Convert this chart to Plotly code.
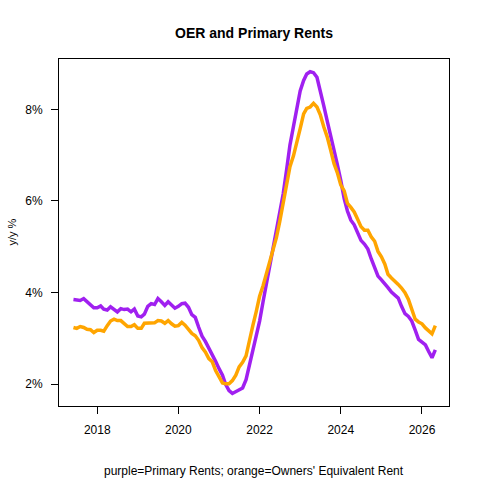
import plotly.graph_objects as go
import pandas as pd

dates = pd.date_range("2017-06-01", periods=108, freq="MS").strftime("%Y-%m-%d").tolist()

primary_rents = [
    3.85, 3.84, 3.83, 3.87, 3.80, 3.72, 3.67, 3.67, 3.71, 3.64, 3.62, 3.69,
    3.64, 3.58, 3.65, 3.63, 3.64, 3.58, 3.64, 3.49, 3.47, 3.53, 3.70, 3.76,
    3.74, 3.87, 3.80, 3.72, 3.80, 3.73, 3.66, 3.70, 3.76, 3.77, 3.68, 3.52,
    3.46, 3.25, 3.05, 2.93, 2.80, 2.65, 2.50, 2.34, 2.20, 2.00, 1.86, 1.80,
    1.84, 1.90, 1.92, 2.10, 2.40, 2.75, 3.05, 3.38, 3.80, 4.17, 4.53, 4.88,
    5.35, 5.75, 6.15, 6.68, 7.22, 7.62, 8.05, 8.40, 8.63, 8.77, 8.82, 8.80,
    8.70, 8.42, 8.08, 7.75, 7.45, 7.15, 6.80, 6.45, 6.05, 5.78, 5.58, 5.48,
    5.30, 5.14, 5.06, 4.95, 4.74, 4.55, 4.36, 4.28, 4.20, 4.11, 4.01, 3.95,
    3.88, 3.70, 3.54, 3.48, 3.38, 3.18, 2.98, 2.92, 2.86, 2.72, 2.58, 2.75,
]

oer = [
    3.24, 3.22, 3.26, 3.24, 3.20, 3.19, 3.13, 3.18, 3.18, 3.16, 3.28, 3.38,
    3.42, 3.39, 3.39, 3.33, 3.26, 3.26, 3.30, 3.22, 3.22, 3.33, 3.33, 3.34,
    3.34, 3.39, 3.38, 3.33, 3.39, 3.32, 3.27, 3.28, 3.35, 3.29, 3.20, 3.11,
    3.06, 2.96, 2.80, 2.70, 2.56, 2.49, 2.30, 2.18, 2.03, 2.01, 2.01, 2.08,
    2.20, 2.38, 2.48, 2.62, 2.98, 3.28, 3.58, 3.92, 4.15, 4.40, 4.65, 4.90,
    5.20, 5.55, 5.95, 6.40, 6.75, 6.98, 7.25, 7.58, 7.90, 8.02, 8.05, 8.13,
    8.05, 7.88, 7.62, 7.40, 7.12, 6.82, 6.62, 6.35, 6.22, 5.95, 5.86, 5.76,
    5.60, 5.44, 5.36, 5.36, 5.22, 5.12, 4.90, 4.78, 4.62, 4.40, 4.32, 4.26,
    4.18, 4.10, 4.00, 3.85, 3.65, 3.42, 3.36, 3.32, 3.23, 3.16, 3.10, 3.28,
]

x_tick_vals = ["2018-01-01", "2020-01-01", "2022-01-01", "2024-01-01", "2026-01-01"]
x_tick_text = ["2018", "2020", "2022", "2024", "2026"]
y_tick_vals = [2, 4, 6, 8]
y_tick_text = ["2%", "4%", "6%", "8%"]

font = "Liberation Sans, Arial, sans-serif"

fig = go.Figure()
fig.add_trace(go.Scatter(x=dates, y=primary_rents, mode="lines",
                         line=dict(color="#A020F0", width=3.5), name="Primary Rents"))
fig.add_trace(go.Scatter(x=dates, y=oer, mode="lines",
                         line=dict(color="#FFA500", width=3.5), name="Owners' Equivalent Rent"))

fig.update_layout(
    width=480, height=480,
    margin=dict(l=59, r=31, t=59, b=74),
    paper_bgcolor="white", plot_bgcolor="white",
    showlegend=False,
    font=dict(family=font, size=12, color="black"),
    title=dict(text="<b>OER and Primary Rents</b>", x=(59 + 449) / 2 / 480, xanchor="center",
               y=1 - 33 / 480, yanchor="middle", font=dict(size=14, family=font, color="black")),
    xaxis=dict(type="date", range=["2017-01-22", "2026-09-01"],
               tickvals=x_tick_vals, ticktext=x_tick_text,
               showgrid=False, zeroline=False,
               showline=True, mirror=True, linecolor="black", linewidth=1,
               ticks="outside", ticklen=7, tickwidth=1, tickcolor="black",
               ticklabelstandoff=6,
               tickfont=dict(size=12, family=font, color="black")),
    yaxis=dict(range=[1.526, 9.098],
               tickvals=y_tick_vals, ticktext=y_tick_text,
               showgrid=False, zeroline=False,
               showline=True, mirror=True, linecolor="black", linewidth=1,
               ticks="outside", ticklen=7, tickwidth=1, tickcolor="black",
               ticklabelstandoff=6,
               tickfont=dict(size=12, family=font, color="black")),
    annotations=[
        dict(text="y/y %", xref="paper", yref="paper", x=0, y=0.5,
             xshift=-48, xanchor="center", yanchor="middle", textangle=-90,
             showarrow=False, font=dict(size=11, family=font, color="black")),
        dict(text="purple=Primary Rents; orange=Owners' Equivalent Rent",
             xref="paper", yref="paper", x=0.5, y=0, yshift=-65,
             xanchor="center", yanchor="middle",
             showarrow=False, font=dict(size=12, family=font, color="black")),
    ],
)

fig.write_html("out.html")
